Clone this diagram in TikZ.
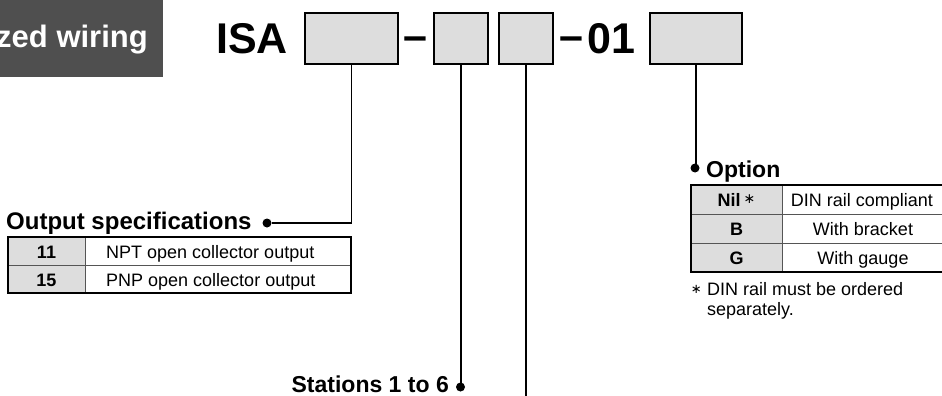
\documentclass[tikz,border=0pt]{standalone}
\usepackage{fontspec}
\setmainfont{Liberation Sans}
\newfontfamily\dejavu{DejaVu Sans}
\definecolor{boxgray}{HTML}{DDDDDD}
\definecolor{bannergray}{HTML}{4F4F4F}
\definecolor{linegray}{HTML}{555555}
\begin{document}
\begin{tikzpicture}[x=1pt,y=-1pt,
  codebox/.style={draw=black,line width=2pt,fill=boxgray,inner sep=0pt,anchor=north west,minimum height=51pt},
  conn/.style={line width=1.8pt,black},
  dot/.style={circle,fill=black,inner sep=0pt,minimum size=9pt},
  big/.style={inner sep=0pt,anchor=base west,font=\fontsize{43}{48}\selectfont\bfseries},
  head/.style={inner sep=0pt,font=\fontsize{23}{26}\selectfont\bfseries},
  cell/.style={inner sep=0pt,anchor=base,font=\fontsize{18}{21}\selectfont},
  cellb/.style={inner sep=0pt,anchor=base,font=\fontsize{18}{21}\selectfont\bfseries},
  outer/.style={draw=black,line width=1.4pt},
  inner/.style={draw=linegray,line width=0.9pt}]
\useasboundingbox (0,0) rectangle (942,396);
\clip (0,0) rectangle (942,396);

% banner
\node[fill=bannergray,inner sep=0pt,anchor=north west,minimum width=163pt,minimum height=77pt] (bannerbox) at (0,0) {};
\node[inner sep=0pt,anchor=base east,text=white,font=\fontsize{31}{34}\selectfont\bfseries] (bannertext) at (148,48) {zed wiring};

% code line
\node[big] (isa) at (216,54) {ISA};
\node[codebox,minimum width=93pt] (b1) at (304,12) {};
\node[big,anchor=base] (dash1) at (415.5,51) {–};
\node[codebox,minimum width=54pt] (b2) at (433,12) {};
\node[codebox,minimum width=54pt] (b3) at (498,12) {};
\node[big,anchor=base] (dash2) at (571,51) {–};
\node[big] (zeroone) at (587,54) {01};
\node[codebox,minimum width=92pt] (b4) at (649,12) {};

% dots and connectors
\node[dot] (d1) at (267,223) {};
\node[dot] (d2) at (460.5,387) {};
\node[dot] (d4) at (695,168) {};
\coordinate (e3) at (525,400);
\draw[conn] (b1.south) |- (d1);
\draw[conn] (b2.south) -- (b2.south |- d2);
\draw[conn] (b3.south) -- (b3.south |- e3);
\draw[conn] (b4.south) -- (b4.south |- d4);

% output specifications
\node[head,anchor=base west,font=\fontsize{24}{27}\selectfont\bfseries] (outhead) at (6,229) {Output specifications};
\fill[boxgray] (8,237) rectangle (85,293);
\draw[inner] (8,265) -- (351,265) (85,237) -- (85,293);
\draw[outer] (8,237) rectangle (351,293);
\node[cellb] (o11) at (46.5,258) {11};
\node[cell,anchor=base west] (o11t) at (106,258) {NPT open collector output};
\node[cellb] (o15) at (46.5,286) {15};
\node[cell,anchor=base west] (o15t) at (106,286) {PNP open collector output};

% stations
\node[head,anchor=base east] (stations) at (449,392) {Stations 1 to 6};

% option
\node[head,anchor=base west] (opthead) at (706,177) {Option};
\fill[boxgray] (691,185) rectangle (782,272);
\draw[inner] (691,214) -- (944,214) (691,243) -- (944,243) (782,185) -- (782,272);
\draw[outer] (691,185) rectangle (944,272);
\node[cellb] (onil) at (736.5,206) {Nil\,\raisebox{3pt}{\dejavu\mdseries\fontsize{14}{14}\selectfont ∗}};
\node[cell] (onilt) at (862,206) {DIN rail compliant};
\node[cellb] (ob) at (736.5,235) {B};
\node[cell] (obt) at (863,235) {With bracket};
\node[cellb] (og) at (736.5,264) {G};
\node[cell] (ogt) at (863,264) {With gauge};
\node[cell,anchor=base east,font=\dejavu\fontsize{13}{13}\selectfont] (fnstar) at (702,293) {∗};
\node[cell,anchor=base west] (fn1) at (707,295) {DIN rail must be ordered};
\node[cell,anchor=base west] (fn2) at (707,315) {separately.};
\end{tikzpicture}
\end{document}
